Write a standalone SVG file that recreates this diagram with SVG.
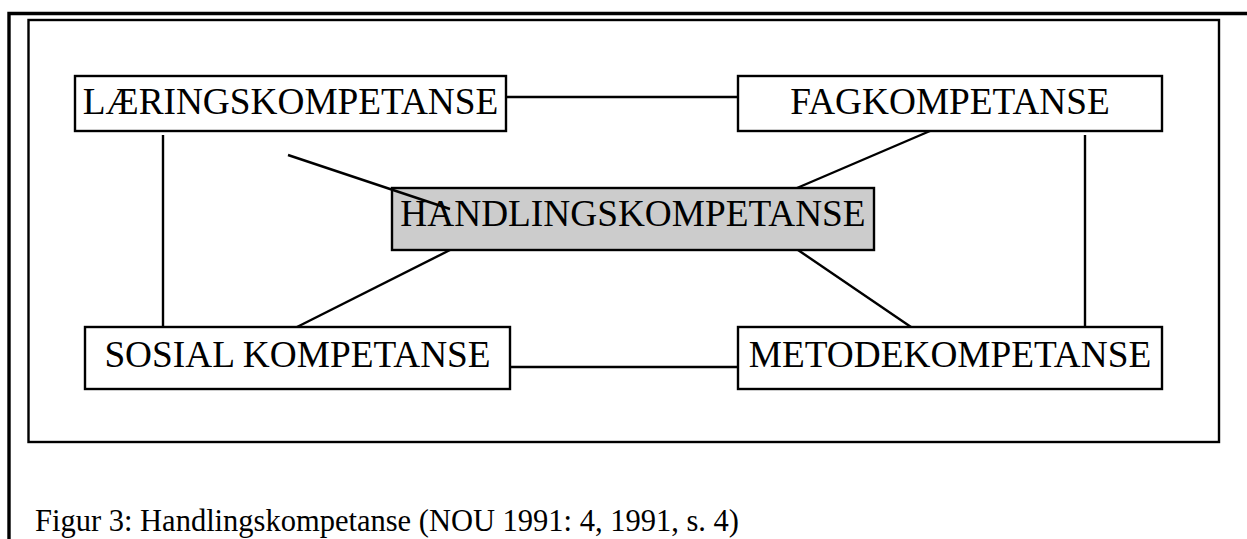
<svg xmlns="http://www.w3.org/2000/svg" width="1247" height="539" viewBox="0 0 1247 539">
  <style>
    .box { fill: #ffffff; stroke: #000000; stroke-width: 2.4; }
    .core { fill: #cccccc; stroke: #000000; stroke-width: 2.4; }
    .label { font-family: "Liberation Serif", "Times New Roman", serif; font-size: 37.3px; fill: #000000; text-anchor: middle; }
    .caption { font-family: "Liberation Serif", "Times New Roman", serif; font-size: 30.5px; fill: #000000; }
    .link { stroke: #000000; stroke-width: 2.4; fill: none; }
  </style>

  <rect width="1247" height="539" fill="#ffffff"/>

  <!-- page border (top and left edges) -->
  <path d="M9,539 V13.5 H1247" fill="none" stroke="#000000" stroke-width="3.4"/>
  <!-- figure frame -->
  <rect x="28.5" y="20" width="1190.5" height="422" fill="none" stroke="#000000" stroke-width="2.4"/>

  <g id="node-laering">
    <rect class="box" x="75" y="76" width="431" height="55"/>
    <text class="label" x="290.5" y="114">LÆRINGSKOMPETANSE</text>
  </g>

  <g id="node-fag">
    <rect class="box" x="738" y="76" width="424" height="55"/>
    <text class="label" x="950" y="114">FAGKOMPETANSE</text>
  </g>

  <g id="node-handling">
    <rect class="core" x="392" y="188" width="482" height="62"/>
    <text class="label" x="633" y="226">HANDLINGSKOMPETANSE</text>
  </g>

  <g id="node-sosial">
    <rect class="box" x="85" y="327" width="425" height="62"/>
    <text class="label" x="297.5" y="367">SOSIAL KOMPETANSE</text>
  </g>

  <g id="node-metode">
    <rect class="box" x="738" y="327" width="424" height="62"/>
    <text class="label" x="950" y="367">METODEKOMPETANSE</text>
  </g>

  <g id="connectors">
    <line class="link" x1="506" y1="97" x2="738" y2="97"/>
    <line class="link" x1="510" y1="367" x2="738" y2="367"/>
    <line class="link" x1="163" y1="135" x2="163" y2="327"/>
    <line class="link" x1="1085" y1="135" x2="1085" y2="327"/>
    <line class="link" x1="288" y1="155" x2="450" y2="209"/>
    <line class="link" x1="930" y1="131" x2="797" y2="188"/>
    <line class="link" x1="450" y1="250" x2="297" y2="327"/>
    <line class="link" x1="798" y1="250" x2="911" y2="327"/>
  </g>

  <text class="caption" x="35" y="531">Figur 3: Handlingskompetanse (NOU 1991: 4, 1991, s. 4)</text>
</svg>
